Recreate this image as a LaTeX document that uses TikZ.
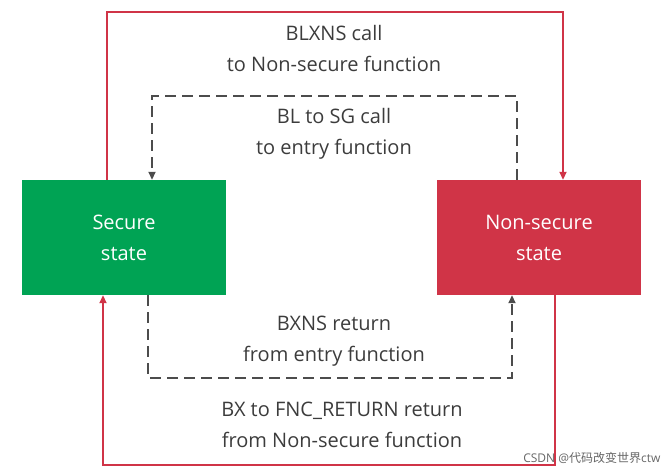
\documentclass[tikz,border=0pt]{standalone}
\usepackage{fontspec}
\setmainfont{Open Sans}
\newfontfamily\cjk{Noto Sans CJK SC}
\usetikzlibrary{arrows.meta}
\definecolor{sgreen}{RGB}{0,163,84}
\definecolor{nred}{RGB}{208,52,71}
\definecolor{txt}{RGB}{60,60,60}
\begin{document}
\begin{tikzpicture}[x=1pt,y=-1pt,
 box/.style={draw=none,minimum width=204pt,minimum height=115pt,text=white,align=center,font=\fontsize{20}{31}\selectfont},
 lbl/.style={text=txt,align=center,font=\fontsize{20}{31}\selectfont},
 redl/.style={draw=nred,line width=1.8pt,-{Triangle[length=8pt,width=7pt]}},
 dashl/.style={draw=black!70,line width=1.8pt,dash pattern=on 11pt off 6pt,-{Triangle[length=8pt,width=7pt]}}]
\useasboundingbox (0,0) rectangle (669,476);
\node[box,fill=sgreen] (sec) at (124,237.5) {Secure\\state};
\node[box,fill=nred] (ns) at (539,237.5) {Non-secure\\state};
\coordinate (a1) at (107,12); \coordinate (a2) at (563,12);
\draw[redl] (sec.north -| a1) -- (a1) -- (a2) -- (ns.north -| a2);
\coordinate (b1) at (517,96); \coordinate (b2) at (152,96);
\draw[dashl] (ns.north -| b1) -- (b1) -- (b2) -- (sec.north -| b2);
\coordinate (c1) at (148,378); \coordinate (c2) at (512,378);
\draw[dashl] (sec.south -| c1) -- (c1) -- (c2) -- (ns.south -| c2);
\coordinate (d1) at (555,465); \coordinate (d2) at (103,465);
\draw[redl] (ns.south -| d1) -- (d1) -- (d2) -- (sec.south -| d2);
\node[lbl] (t1) at (334,49) {BLXNS call\\to Non-secure function};
\node[lbl] (t2) at (334,134) {BL to SG call\\to entry function};
\node[lbl] (t3) at (334,341) {BXNS return\\from entry function};
\node[lbl] (t4) at (342,425) {BX to FNC\_RETURN return\\from Non-secure function};
\node[text=black!60,font=\fontsize{12}{14}\selectfont,anchor=east] (wm) at (664,458) {CSDN @{\cjk 代码改变世界}ctw};
\end{tikzpicture}
\end{document}
